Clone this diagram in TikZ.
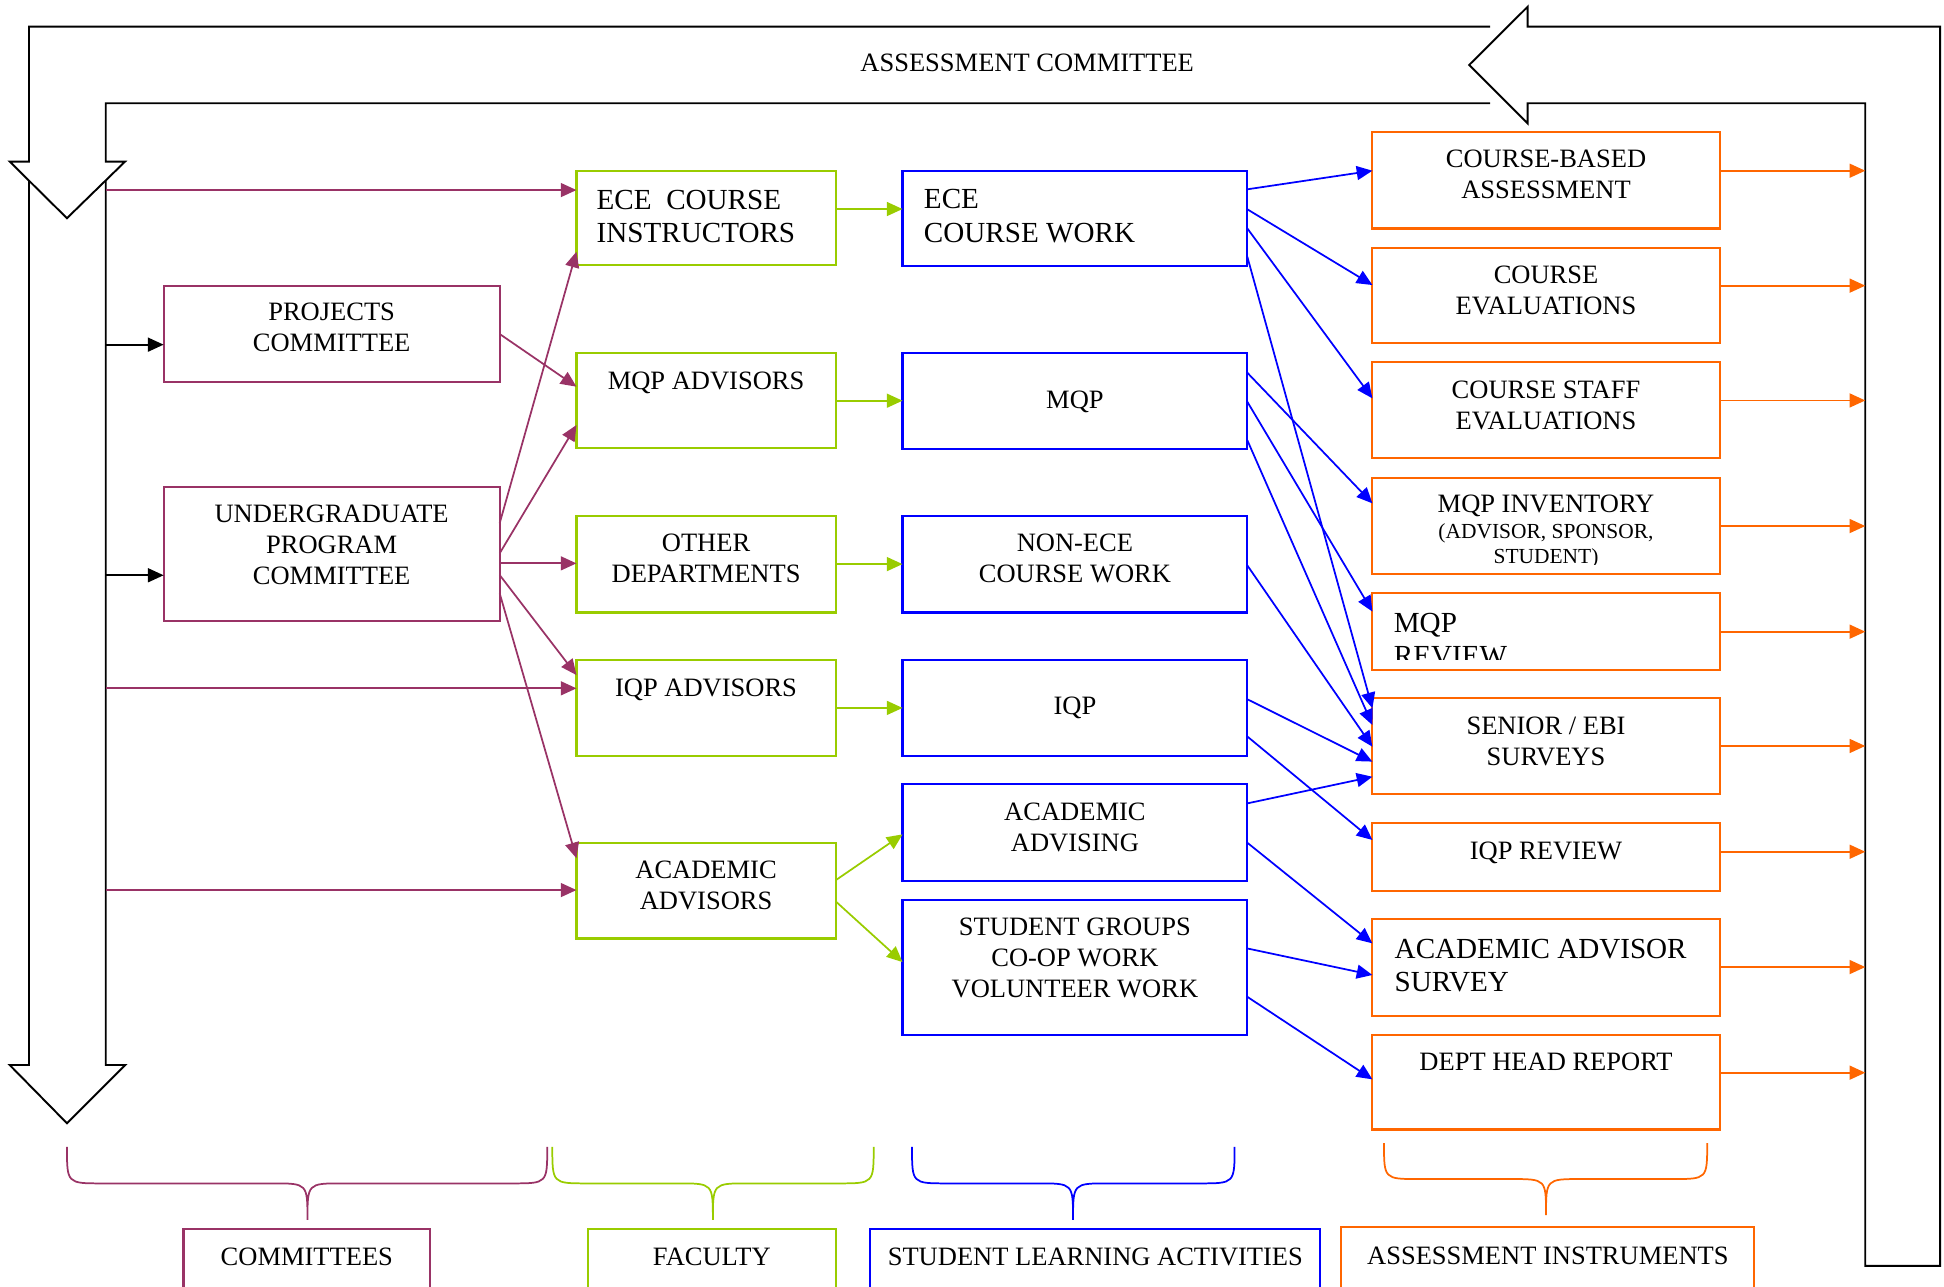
\documentclass[tikz,border=0pt]{standalone}
\usepackage{fontspec}
\setmainfont{Liberation Serif}
\usetikzlibrary{arrows.meta,positioning}

\definecolor{commcol}{HTML}{993366}
\definecolor{faccol}{HTML}{99CC00}
\definecolor{stucol}{HTML}{0000FF}
\definecolor{asscol}{HTML}{FF6600}

\newcommand{\boxfont}{\fontsize{15.2}{17.8}\selectfont}
\newcommand{\bigboxfont}{\fontsize{16.7}{19}\selectfont}
\newcommand{\smallboxfont}{\fontsize{12.3}{14.4}\selectfont}

\tikzset{
  boxline/.style={draw, line width=1.2pt, inner sep=0pt, outer sep=0pt},
  cbox/.style={boxline, commcol, minimum width=6.775cm},
  fbox/.style={boxline, faccol, minimum width=5.225cm},
  sbox/.style={boxline, stucol, minimum width=6.95cm},
  abox/.style={boxline, asscol, minimum width=7cm},
  txt/.style={inner sep=0pt, align=center, font=\boxfont},
  ltxt/.style={txt, align=left, font=\bigboxfont},
  arr/.style={line width=1pt, -{Triangle[length=9pt,width=8pt]}},
  karr/.style={arr, black},
  parr/.style={arr, commcol},
  garr/.style={arr, faccol},
  barr/.style={arr, stucol},
  oarr/.style={arr, asscol},
  loopline/.style={black, line width=1.1pt, line join=miter},
}

\begin{document}
\begin{tikzpicture}[x=0.025cm, y=-0.025cm]
        \clip (0,0) rectangle (1568,1038);

        \coordinate (shaftL) at (23.4,0);
        \coordinate (shaftR) at (85.3,0);
        \coordinate (rail) at (1504.5,0);

        % big loop arrow
        \draw[loopline] (1202,21.5) -- (shaftL |- 0,21.5) -- (shaftL |- 0,130.4) -- (7.9,130.4)
            -- (54,176) -- (100.8,130.4) -- (shaftR |- 0,130.4) -- (shaftR |- 0,83.3) -- (1202,83.3);
        \draw[loopline] (shaftL |- 0,145.5) -- (shaftL |- 0,859) -- (7.8,859) -- (54,906)
            -- (101,859) -- (shaftR |- 0,859) -- (shaftR |- 0,145.5);
        \draw[loopline] (1232.2,5.4) -- (1232.2,21.5) -- (1564.8,21.5) -- (1564.8,1021)
            -- (rail |- 0,1021) -- (rail |- 0,83.3) -- (1232.2,83.3) -- (1232.2,99.5) -- (1185,52.4) -- cycle;
        \node[txt, anchor=north] (acomm) at (828.5,43) {ASSESSMENT COMMITTEE};

        % committees
        \node[cbox, minimum height=1.925cm] (proj) at (267.5,269.5) {};
        \node[cbox, minimum height=2.7cm] (upc) at (267.5,447) {};
        \node[txt, below=9.25pt of proj.north] (proj-t) {PROJECTS\\COMMITTEE};
        \node[txt, below=10pt of upc.north] (upc-t) {UNDERGRADUATE\\PROGRAM\\COMMITTEE};

        % faculty
        \node[fbox, minimum height=1.9cm] (ecei) at (569.5,176) {};
        \node[fbox, minimum height=1.925cm] (mqpa) at (569.5,323) {};
        \node[fbox, minimum height=1.95cm] (other) at (569.5,455) {};
        \node[fbox, minimum height=1.95cm] (iqpa) at (569.5,571) {};
        \node[fbox, minimum height=1.925cm] (acada) at (569.5,718.5) {};
        \node[ltxt, below right=10.5pt and 11.4pt of ecei.north west] (ecei-t) {ECE\ \ COURSE\\INSTRUCTORS};
        \node[txt, below=10.9pt of mqpa.north] (mqpa-t) {MQP ADVISORS};
        \node[txt, below=10pt of other.north] (other-t) {OTHER\\DEPARTMENTS};
        \node[txt, below=10.7pt of iqpa.north] (iqpa-t) {IQP ADVISORS};
        \node[txt, below=10pt of acada.north] (acada-t) {ACADEMIC\\ADVISORS};

        % student learning activities
        \node[sbox, minimum height=1.925cm] (ecew) at (867,176.4) {};
        \node[sbox, minimum height=1.94cm] (mqp) at (867,323.3) {};
        \node[sbox, minimum height=1.95cm] (nonece) at (867,455) {};
        \node[sbox, minimum height=1.95cm] (iqp) at (867,571) {};
        \node[sbox, minimum height=1.94cm] (advising) at (867,671.5) {};
        \node[sbox, minimum height=2.72cm] (groups) at (867,780.4) {};
        \node[ltxt, below right=10.5pt and 12.1pt of ecew.north west] (ecew-t) {ECE\\COURSE WORK};
        \node[txt, below=21.7pt of mqp.north] (mqp-t) {MQP};
        \node[txt, below=10pt of nonece.north] (nonece-t) {NON-ECE\\COURSE WORK};
        \node[txt, below=21.3pt of iqp.north] (iqp-t) {IQP};
        \node[txt, below=10.2pt of advising.north] (advising-t) {ACADEMIC\\ADVISING};
        \node[txt, below=10pt of groups.north] (groups-t) {STUDENT GROUPS\\CO-OP WORK\\VOLUNTEER WORK};

        % assessment instruments
        \node[abox, minimum height=1.94cm] (cba) at (1247,145.5) {};
        \node[abox, minimum height=1.925cm] (ceval) at (1247,238.4) {};
        \node[abox, minimum height=1.935cm] (cstaff) at (1247,331) {};
        \node[abox, minimum height=1.93cm] (mqpinv) at (1247,424.4) {};
        \node[abox, minimum height=1.545cm] (mqprev) at (1247,509.5) {};
        \node[abox, minimum height=1.935cm] (senior) at (1247,602) {};
        \node[abox, minimum height=1.36cm] (iqprev) at (1247,691.2) {};
        \node[abox, minimum height=1.94cm] (aas) at (1247,780.4) {};
        \node[abox, minimum height=1.9cm] (dept) at (1247,873) {};
        \node[txt, below=10pt of cba.north] (cba-t) {COURSE-BASED\\ASSESSMENT};
        \node[txt, below=10pt of ceval.north] (ceval-t) {COURSE\\EVALUATIONS};
        \node[txt, below=10.5pt of cstaff.north] (cstaff-t) {COURSE STAFF\\EVALUATIONS};
        \begin{scope}
            \clip (mqpinv.north west) rectangle (mqpinv.east |- 0,455);
            \node[txt, font=\smallboxfont, below=9.6pt of mqpinv.north] (mqpinv-t)
                {{\fontsize{15.2}{14.4}\selectfont MQP INVENTORY}\\(ADVISOR, SPONSOR,\\STUDENT)};
        \end{scope}
        \begin{scope}
            \clip (mqprev.north west) rectangle (mqprev.east |- 0,531.8);
            \node[ltxt, below right=11.1pt and 12.1pt of mqprev.north west] (mqprev-t) {MQP\\REVIEW};
        \end{scope}
        \node[txt, below=10.5pt of senior.north] (senior-t) {SENIOR / EBI\\SURVEYS};
        \node[txt, below=10.6pt of iqprev.north] (iqprev-t) {IQP REVIEW};
        \node[ltxt, below right=10.9pt and 12.6pt of aas.north west] (aas-t) {ACADEMIC ADVISOR\\SURVEY};
        \node[txt, below=10pt of dept.north] (dept-t) {DEPT HEAD REPORT};

        % connectors
        \foreach \b/\yb in {proj/278, upc/464}
            \draw[karr] (shaftR |- 0,\yb) -- (\b.west |- 0,\yb);
        \foreach \b/\yb in {ecei/153.3, iqpa/555.2, acada/717.9}
            \draw[parr] (shaftR |- 0,\yb) -- (\b.west |- 0,\yb);
        \foreach \a/\ya/\b/\yb in {proj/269.4/mqpa/311.9, upc/422/ecei/203, upc/446.3/mqpa/342.8,
                upc/454.4/other/454.4, upc/463.8/iqpa/544.5, upc/478.6/acada/692.3}
            \draw[parr] (\a.east |- 0,\ya) -- (\b.west |- 0,\yb);
        \foreach \a/\ya/\b/\yb in {ecei/168.6/ecew/168.6, mqpa/323.2/mqp/323.2, other/455/nonece/455,
                iqpa/571/iqp/571, acada/710/advising/673, acada/727/groups/776}
            \draw[garr] (\a.east |- 0,\ya) -- (\b.west |- 0,\yb);
        \foreach \a/\ya/\b/\yb in {ecew/152.7/cba/137.7, ecew/168.8/ceval/229.9, ecew/184.2/cstaff/321.3,
                ecew/207/senior/571.3, mqp/300.6/mqpinv/406, mqp/324/mqprev/493.3, mqp/355/senior/584.8,
                nonece/456/senior/602.3, iqp/564/senior/614.3, iqp/594/iqprev/677.5,
                advising/648/senior/626.5, advising/679.7/aas/760.9, groups/765/aas/786.4, groups/804/dept/870.6}
            \draw[barr] (\a.east |- 0,\ya) -- (\b.west |- 0,\yb);
        \foreach \a/\ya in {cba/137.7, ceval/230.4, cstaff/323, mqpinv/424.3, mqprev/509.5,
                senior/601.7, iqprev/687, aas/780, dept/865.2}
            \draw[oarr] (\a.east |- 0,\ya) -- (rail |- 0,\ya);

        % group braces
        \foreach \l/\m/\r/\t/\h/\b/\c in {54/248/441.4/925/954.5/984/commcol,
                445.5/575/704.7/925/954.5/984/faccol, 735.6/865.5/995.8/925/954.5/984/stucol,
                1116.3/1247/1377/922/951/980/asscol}
            \draw[\c, line width=1pt] (\l,\t) .. controls (\l,\h) .. (\l+28,\h) -- (\m-28,\h)
                .. controls (\m,\h) .. (\m,\b) .. controls (\m,\h) .. (\m+28,\h) -- (\r-28,\h)
                .. controls (\r,\h) .. (\r,\t);

        % group labels
        \node[cbox, minimum width=4.975cm, minimum height=1.35cm] (lcomm) at (247.5,1018) {};
        \node[fbox, minimum width=4.99cm, minimum height=1.35cm] (lfac) at (574.2,1018) {};
        \node[sbox, minimum width=9.075cm, minimum height=1.35cm] (lstu) at (883.5,1018) {};
        \node[abox, minimum width=8.325cm, minimum height=1.35cm] (lass) at (1248.5,1017) {};
        \node[txt, below=10.9pt of lcomm.north] (lcomm-t) {COMMITTEES};
        \node[txt, below=10.9pt of lfac.north] (lfac-t) {FACULTY};
        \node[txt, below=10.9pt of lstu.north] (lstu-t) {STUDENT LEARNING ACTIVITIES};
        \node[txt, below=10.9pt of lass.north] (lass-t) {ASSESSMENT INSTRUMENTS};
\end{tikzpicture}
\end{document}
